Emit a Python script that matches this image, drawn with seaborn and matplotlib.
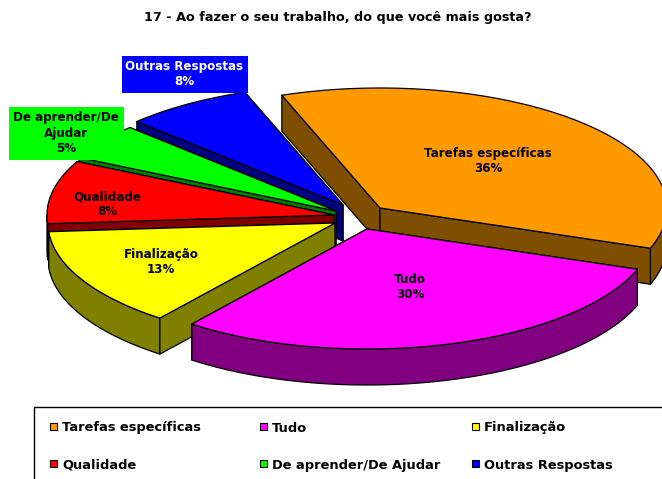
import numpy as np
import matplotlib
matplotlib.use("Agg")
import matplotlib.pyplot as plt
from matplotlib.patches import Rectangle
import seaborn as sns

# --- data ---
title = "17 - Ao fazer o seu trabalho, do que você mais gosta?"
categories = ["Tarefas específicas", "Tudo", "Finalização", "Qualidade",
              "De aprender/De Ajudar", "Outras Respostas"]
values = [36.0, 30.0, 13.4, 8.5, 4.9, 7.2]
percent_labels = ["36%", "30%", "13%", "8%", "5%", "8%"]
wrapped_labels = ["Tarefas específicas", "Tudo", "Finalização", "Qualidade",
                  "De aprender/De\nAjudar", "Outras Respostas"]

# --- style ---
top_colors = ["#FF9900", "#FF00FF", "#FFFF00", "#FF0000", "#00FF00", "#0000FF"]
side_colors = ["#7F4F00", "#800080", "#808000", "#800000", "#008000", "#000080"]
label_colors = ["black", "black", "black", "black", "black", "white"]
label_boxes = [None, None, None, None, (9, 107, 115, 53), (122, 56, 126, 37)]
label_xy = [(488, 161), (410, 287), (161, 262), (107, 204), (66, 133), (184, 74)]
apexes = [(380, 208), (367, 229), (335, 223), (334, 215), (336, 211), (343, 205)]
draw_order = [5, 4, 3, 2, 0, 1]
legend_order = [0, 1, 2, 3, 4, 5]
start_deg = 110.0
RX, RY, DEPTH = 287.0, 120.0, 36.0
FONT = "DejaVu Sans"

sns.set_theme(style="white")
plt.rcParams["font.family"] = [FONT]
palette = sns.color_palette(top_colors)

fig = plt.figure(figsize=(6.62, 4.79), dpi=100, facecolor="white")
ax = fig.add_axes([0, 0, 1, 1])
ax.set_xlim(0, 662)
ax.set_ylim(479, 0)
ax.axis("off")

fractions = np.array(values) / np.sum(values)
edges = start_deg - np.concatenate([[0], np.cumsum(fractions)]) * 360.0


def arc(cx, cy, t):
    r = np.radians(t)
    return cx + RX * np.cos(r), cy - RY * np.sin(r)


def face(xs, ys, color):
    ax.fill(xs, ys, facecolor=color, edgecolor="black", linewidth=0.9,
            joinstyle="round", clip_on=True)


for i in draw_order:
    hi, lo = edges[i], edges[i + 1]
    cx, cy = apexes[i]
    side = side_colors[i]
    radial = []
    for t, hi_edge in ((hi, True), (lo, False)):
        c = np.cos(np.radians(t))
        visible = (c < 0) if hi_edge else (c > 0)
        radial.append((visible, t))
    radial.sort(key=lambda r: r[0])
    for visible, t in radial:
        if not visible:
            px, py = arc(cx, cy, t)
            face([cx, px, px, cx], [cy, py, py + DEPTH, cy + DEPTH], side)
    ts = np.linspace(hi, lo, 200)
    front = ts[np.sin(np.radians(ts)) <= 0]
    if len(front) > 1:
        ax_, ay_ = arc(cx, cy, front)
        face(np.r_[ax_, ax_[::-1]], np.r_[ay_, ay_[::-1] + DEPTH], side)
    for visible, t in radial:
        if visible:
            px, py = arc(cx, cy, t)
            face([cx, px, px, cx], [cy, py, py + DEPTH, cy + DEPTH], side)
    tx, ty = arc(cx, cy, ts)
    face(np.r_[cx, tx], np.r_[cy, ty], palette[i])

for i, name in enumerate(wrapped_labels):
    box = label_boxes[i]
    if box is not None:
        ax.add_patch(Rectangle(box[:2], box[2], box[3], facecolor=top_colors[i],
                               edgecolor="none", zorder=5))
    ax.text(*label_xy[i], f"{name}\n{percent_labels[i]}", ha="center", va="center",
            fontsize=8.6, fontweight="bold", color=label_colors[i], zorder=6,
            linespacing=1.2, family=FONT)

ax.text(338, 17, title, ha="center", va="center", fontsize=9.15, fontweight="bold",
        color="black", family=FONT)

# legend
ax.add_patch(Rectangle((34, 407), 700, 120, facecolor="white", edgecolor="black",
                       linewidth=1.0, zorder=1))
col_x = [50, 260, 472]
row_y = [427, 464]
for k, i in enumerate(legend_order):
    x = col_x[k % 3]
    y = row_y[k // 3]
    ax.add_patch(Rectangle((x, y - 4), 7, 7, facecolor=top_colors[i], edgecolor="black",
                           linewidth=0.8, zorder=2))
    ax.text(x + 12, y + 4.5, categories[i], ha="left", va="baseline", fontsize=9.35,
            fontweight="bold", color="black", zorder=2, family=FONT)

fig.savefig("out.png", dpi=100)
